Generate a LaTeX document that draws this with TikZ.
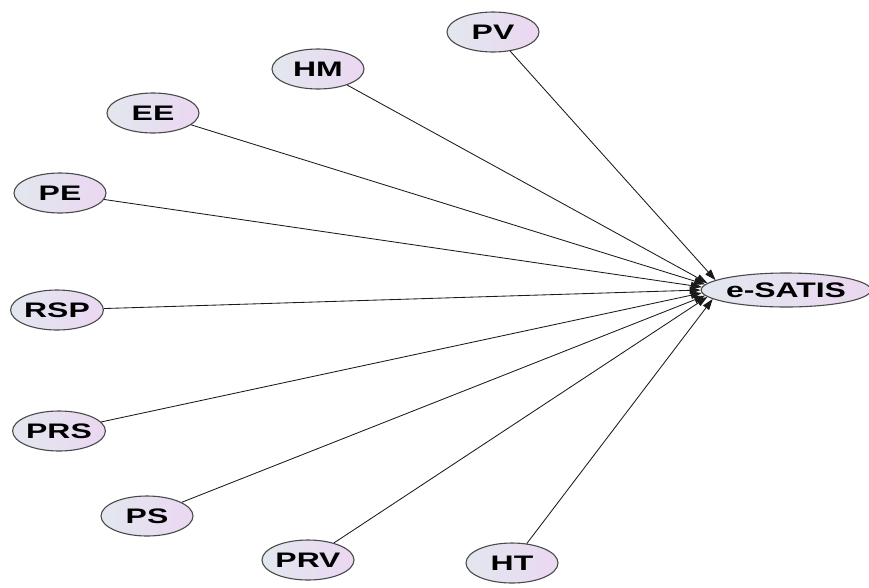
\documentclass[tikz,border=0pt]{standalone}
\usepackage{fontspec}
\usepackage{xcolor}
\usepackage{tikz}
\usetikzlibrary{shapes.geometric,arrows.meta}
\newfontfamily\lblfont[FakeStretch=1.52]{Liberation Sans}
\definecolor{fillLeft}{HTML}{E2E7EF}
\definecolor{fillRight}{HTML}{EBD7F1}
\definecolor{border}{HTML}{4A4A4A}
\definecolor{edge}{HTML}{1A1A1A}
\tikzset{
  construct/.style={ellipse, draw=border, line width=1.1pt, left color=fillLeft, right color=fillRight,
    inner sep=0pt, minimum width=92pt, minimum height=40pt,
    font=\lblfont\fontsize{21pt}{22pt}\bfseries},
  outcome/.style={construct, minimum width=166pt, minimum height=34pt},
  pathArrow/.style={draw=edge, line width=0.85pt, -{Triangle[length=11pt,width=7.5pt]}},
}

\begin{document}
\begin{tikzpicture}[x=1pt, y=-1pt]
  \useasboundingbox (0,0) rectangle (869,587);

  % Predictors
  \node[construct] (pv)  at (493,32)  {PV};
  \node[construct] (hm)  at (318,69)  {HM};
  \node[construct] (ee)  at (153,113) {EE};
  \node[construct] (pe)  at (60,193)  {PE};
  \node[construct] (rsp) at (57,310)  {RSP};
  \node[construct] (prs) at (59,431)  {PRS};
  \node[construct] (ps)  at (147,516) {PS};
  \node[construct] (prv) at (308,560) {PRV};
  \node[construct] (ht)  at (512,563) {HT};

  % Outcome
  \node[outcome] (esatis) at (786,290) {e-SATIS};

  % Paths
  \draw[pathArrow] (pv)  -- (esatis.172);
  \draw[pathArrow] (hm)  -- (esatis.175);
  \draw[pathArrow] (ee)  -- (esatis.176.6);
  \draw[pathArrow] (pe)  -- (esatis.178.2);
  \draw[pathArrow] (rsp) -- (esatis.180.4);
  \draw[pathArrow] (prs) -- (esatis.182.5);
  \draw[pathArrow] (ps)  -- (esatis.184);
  \draw[pathArrow] (prv) -- (esatis.185.3);
  \draw[pathArrow] (ht)  -- (esatis.187.5);
\end{tikzpicture}
\end{document}
